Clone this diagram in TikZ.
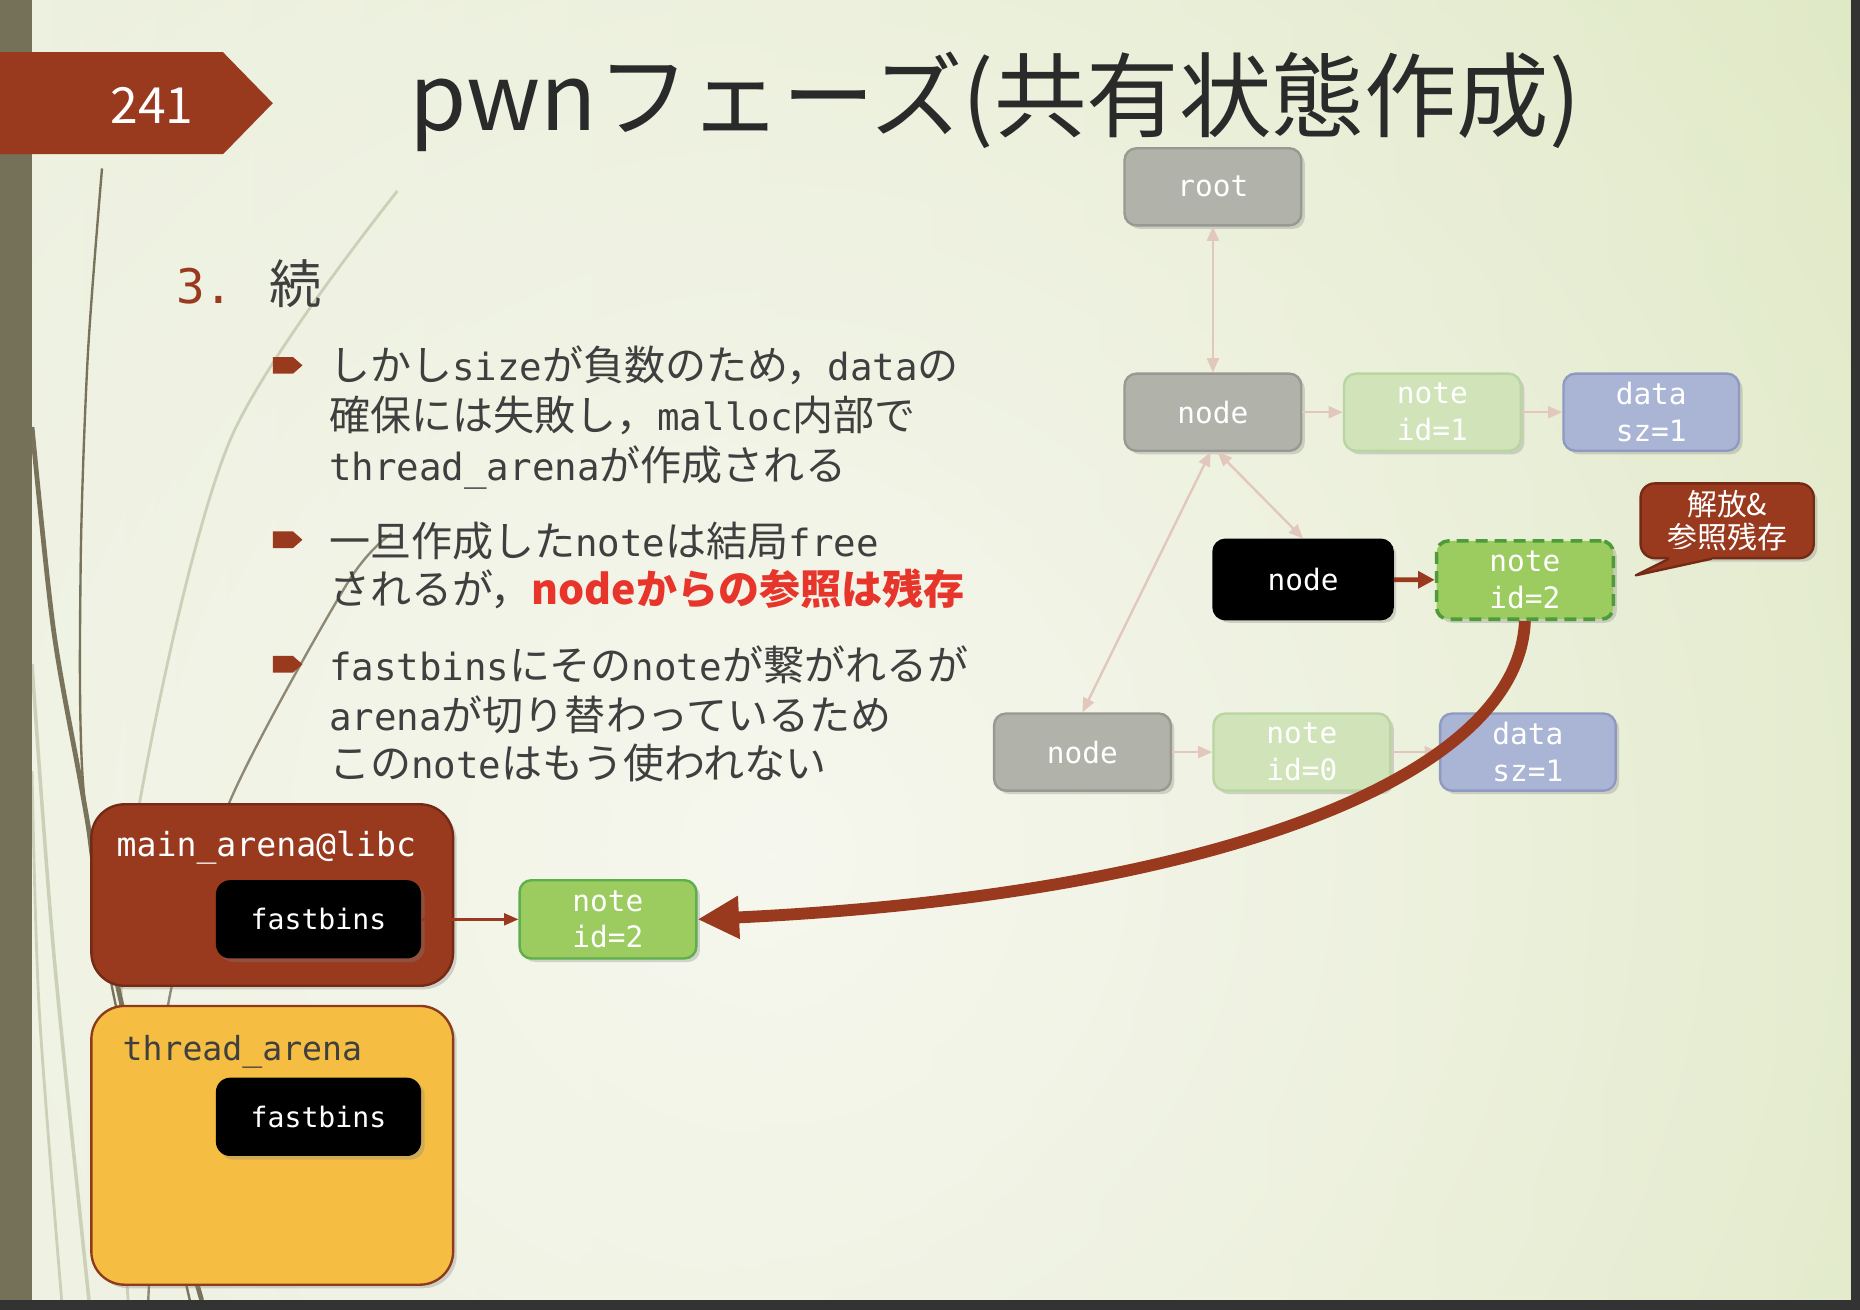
\documentclass[tikz,border=0pt]{standalone}
\usepackage{fontspec}
\setmainfont{Noto Sans CJK JP}
\newfontfamily\monof[Scale=0.913]{DejaVu Sans Mono}
\newcommand\monow[1]{{\monof #1}}
\usetikzlibrary{arrows.meta,shadows,fadings}
\definecolor{bgleft}{HTML}{E4EBD1}
\definecolor{bgright}{HTML}{D2E0AC}
\definecolor{bgin}{HTML}{F6F7EE}
\definecolor{sidebar}{HTML}{757058}
\definecolor{frame}{HTML}{333333}
\definecolor{brick}{HTML}{993A1F}
\definecolor{brickdark}{HTML}{742A15}
\definecolor{gfill}{HTML}{B1B2A9}
\definecolor{gline}{HTML}{989990}
\definecolor{nfill}{HTML}{D0E3B9}
\definecolor{nline}{HTML}{B9D5A2}
\definecolor{dfill}{HTML}{AAB4D4}
\definecolor{dline}{HTML}{8E9AC1}
\definecolor{gfilltwo}{HTML}{9CCB5F}
\definecolor{gdash}{HTML}{4E9B3B}
\definecolor{glinetwo}{HTML}{5DAF4B}
\definecolor{yfill}{HTML}{F5BE42}
\definecolor{yline}{HTML}{8E3B1B}
\definecolor{pinkline}{HTML}{E2C7BC}
\definecolor{textgray}{HTML}{3F3F3F}
\definecolor{titlegray}{HTML}{2A2A2A}
\definecolor{hired}{HTML}{E8352B}
\definecolor{bladedark}{HTML}{7A735C}
\definecolor{bladelight}{HTML}{CDD0B8}
\tikzfading[name=glowfade, inner color=transparent!0, outer color=transparent!100]
\begin{document}
\begin{tikzpicture}[x=0.5pt,y=-0.5pt,
  every node/.style={inner sep=0pt},
  shad/.style={drop shadow={opacity=0.3,shadow xshift=1.5pt,shadow yshift=-1.5pt}},
  boxfont/.style={font=\fontsize{13.6pt}{15.5pt}\monof},
  box/.style={rectangle,rounded corners=5pt,line width=1pt,minimum width=74.5pt,minimum height=32.5pt,text=white,align=center,boxfont,shad},
  graybox/.style={box,fill=gfill,draw=gline},
  notebox/.style={box,fill=nfill,draw=nline},
  databox/.style={box,fill=dfill,draw=dline,minimum width=74pt},
  blackbox/.style={box,fill=black,draw=black,minimum width=75.5pt,minimum height=33.5pt},
  livebox/.style={box,fill=gfilltwo,draw=glinetwo,minimum height=33pt},
  freedbox/.style={box,fill=gfilltwo,draw=gdash,dash pattern=on 5pt off 3pt,line width=1.5pt,minimum height=33pt},
  arena/.style={rectangle,rounded corners=14pt,line width=1pt,minimum width=152.5pt,shad},
  binbox/.style={rectangle,rounded corners=6pt,fill=black,text=white,minimum width=86.5pt,minimum height=33pt,font=\fontsize{13pt}{15pt}\monof,shad},
  faint/.style={draw=pinkline,line width=1pt},
  dbl/.style={{Triangle[length=6pt,width=5pt]}-{Triangle[length=6pt,width=5pt]}},
  one/.style={-{Triangle[length=6pt,width=5pt]}},
  body/.style={anchor=base west,text=textgray,font=\fontsize{17.3pt}{20pt}\selectfont},
  bmark/.style={fill=brick}
]
\useasboundingbox (0,0) rectangle (1568,1104);
% background
\shade[left color=bgleft,right color=bgright] (0,0) rectangle (1568,1104);
\begin{scope}
  \clip (27,0) rectangle (1560,1096);
  \fill[bgin,path fading=glowfade] (650,720) circle (1900);
\end{scope}
% decorative blades
\draw[bladelight,line width=1.2pt] plot[smooth] coordinates {(335,161) (194,371) (118,675) (100,900) (108,1096)};
\draw[bladelight,line width=1.5pt] plot[smooth] coordinates {(27,560) (45,800) (75,1096)};
\draw[bladelight,line width=1.2pt] plot[smooth] coordinates {(27,650) (33,850) (52,1096)};
\draw[bladedark,line width=1pt] plot[smooth] coordinates {(86,142) (74,300) (68,476) (70,660) (95,835) (135,990) (160,1096)};
\draw[bladedark,line width=2pt] plot[smooth] coordinates {(27,360) (45,530) (68,660) (100,835) (140,990) (170,1096)};
\draw[bladedark!85,line width=1pt] plot[smooth] coordinates {(330,450) (292,493) (194,675) (143,840) (130,1000) (125,1096)};
% frame bars
\fill[sidebar] (0,0) rectangle (27,1096);
\fill[frame] (0,1096) rectangle (1568,1104);
\fill[frame] (1560,0) rectangle (1568,1104);
% slide number banner
\fill[brick] (0,44) -- (188,44) -- (230,87) -- (188,130) -- (0,130) -- cycle;
\node[anchor=base,text=white,font=\fontsize{21pt}{24pt}\selectfont] (num) at (128,104) {241};
% title
\node[anchor=base west,text=titlegray,font=\fontsize{39pt}{44pt}\selectfont] (title) at (345,110) {pwnフェーズ(共有状態作成)};
% heading
\node[anchor=base west,text=brick,font=\fontsize{22pt}{26pt}\monof] (num3) at (148,256) {3.};
\node[anchor=base west,text=textgray,font=\fontsize{22pt}{26pt}\selectfont] (cont) at (227,256) {続};
% bullet markers
\foreach \yy in {308,455,560}{
  \fill[bmark,shift={(0,\yy)}] (230,-7) -- (247,-7) -- (255,0) -- (247,7) -- (230,7) -- cycle;
}
% bullet text
\node[body] (l1) at (277,321) {しかし\monow{size}が負数のため，\monow{data}の};
\node[body] (l2) at (277,363) {確保には失敗し，\monow{malloc}内部で};
\node[body] (l3) at (277,405) {\monow{thread\_arena}が作成される};
\node[body] (l4) at (277,469) {一旦作成した\monow{note}は結局\monow{free}};
\node[body] (l5) at (277,510) {されるが，\textcolor{hired}{\bfseries nodeからの参照は残存}};
\node[body] (l6) at (277,574) {\monow{fastbins}にその\monow{note}が繋がれるが};
\node[body] (l7) at (277,616) {\monow{arena}が切り替わっているため};
\node[body] (l8) at (277,656) {この\monow{note}はもう使われない};
% tree diagram
\node[graybox] (root) at (1022.5,157.5) {root};
\node[graybox] (n1) at (1022.5,347.5) {node};
\node[notebox] (note1) at (1207.5,347.5) {note\\id=1};
\node[databox] (data1) at (1392,347.5) {data\\sz=1};
\node[blackbox] (nB) at (1098.5,488.5) {node};
\node[freedbox] (note2) at (1285.5,489) {note\\id=2};
\node[graybox] (n0) at (912.5,634) {node};
\node[notebox] (note0) at (1097.5,634) {note\\id=0};
\node[databox] (data0) at (1288,634) {data\\sz=1};
\draw[faint,dbl] (root) -- (n1);
\draw[faint,dbl] ([xshift=2pt]n1.south) -- (nB.north);
\draw[faint,dbl] ([xshift=-1pt]n1.south) -- (n0.north);
\draw[faint,one] (n1) -- (note1);
\draw[faint,one] (note1) -- (data1);
\draw[faint,one] (n0) -- (note0);
\draw[faint,one] (note0) -- (data0);
\draw[brick,line width=2pt,-{Triangle[length=7pt,width=7pt]}] (nB) -- (note2);
% callout
\node[rectangle,rounded corners=6pt,fill=brick,draw=brickdark,line width=1pt,minimum width=73pt,minimum height=31.5pt,text=white,align=center,font=\fontsize{12.6pt}{14pt}\selectfont,shad] (callout) at (1456,439) {解放\&\\参照残存};
\coordinate (tip) at (1379,485);
\fill[brick] (1407,463) -- (1407,470.5) -- (tip) -- (1443,470.5) -- (1443,463) -- cycle;
\draw[brickdark,line width=1pt,line join=round] (1407,471) -- (tip) -- (1443,471);
% arenas
\node[arena,fill=brick,draw=brickdark,minimum height=76.5pt] (main) at (229.5,754.5) {};
\node[anchor=base west,text=white,font=\fontsize{15.3pt}{18pt}\monof] (mainlbl) at (98,722) {main\_arena@libc};
\node[binbox] (fb1) at (268.5,775) {fastbins};
\node[livebox] (noteB) at (512.5,775) {note\\id=2};
\draw[brick,line width=1pt,-{Triangle[length=6pt,width=5pt]}] (fb1) -- (noteB);
\node[arena,fill=yfill,draw=yline,minimum height=117.5pt] (thread) at (229.5,965.5) {};
\node[anchor=base west,text=textgray,font=\fontsize{15.3pt}{18pt}\monof] (threadlbl) at (103,894) {thread\_arena};
\node[binbox] (fb2) at (268.5,941.5) {fastbins};
% big curved arrow
\draw[brick,line width=5pt,-{Triangle[length=17.5pt,width=17pt]}] (note2.south) .. controls (1280,660) and (1010,755) .. (noteB.east);
\end{tikzpicture}
\end{document}
